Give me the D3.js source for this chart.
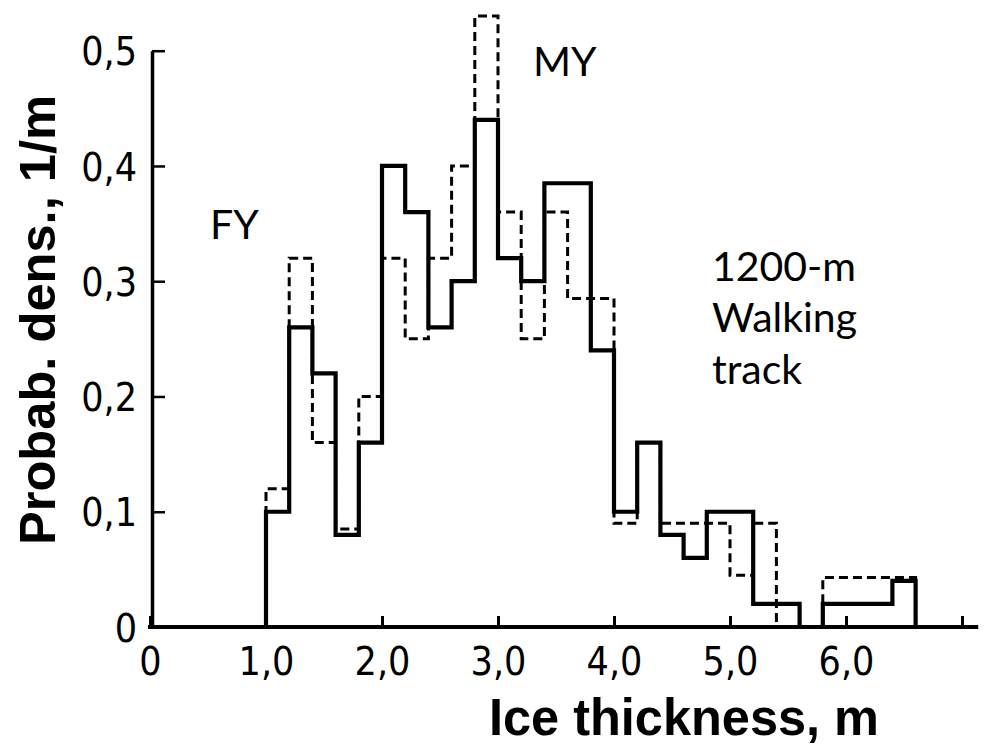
<!DOCTYPE html>
<html>
<head>
<meta charset="utf-8">
<script src="https://cdn.jsdelivr.net/npm/d3@7"></script>
<style>
  body { margin: 0; background: #fff; }
  .axis text { font-family: "Liberation Sans Narrow", "DejaVu Sans Condensed", sans-serif; font-size: 39px; fill: #000; }
  .axis line, .axis path { stroke: #000; }
  .title { font-family: "Liberation Sans", Arial, sans-serif; font-weight: bold; fill: #000; }
  .note { font-family: Lato, "Open Sans", sans-serif; font-size: 41px; fill: #000; }
</style>
</head>
<body>
<svg id="chart" width="989" height="754"></svg>
<script>
// bin left edges (m), bin width 0.2
var binEdges = [1.0, 1.2, 1.4, 1.6, 1.8, 2.0, 2.2, 2.4, 2.6, 2.8, 3.0, 3.2, 3.4, 3.6,
  3.8, 4.0, 4.2, 4.4, 4.6, 4.8, 5.0, 5.2, 5.4, 5.6, 5.8, 6.0, 6.2, 6.4];
var lastEdge = 6.6;

// solid histogram
var solidValues = [0.10, 0.26, 0.22, 0.08, 0.16, 0.40, 0.36, 0.26, 0.30, 0.44, 0.32, 0.30, 0.385, 0.385,
  0.24, 0.10, 0.16, 0.08, 0.06, 0.10, 0.10, 0.02, 0.02, 0, 0.02, 0.02, 0.02, 0.04];
// dashed histogram
var dashedValues = [0.12, 0.32, 0.16, 0.085, 0.20, 0.32, 0.25, 0.32, 0.40, 0.53, 0.36, 0.25, 0.36, 0.285,
  0.285, 0.09, 0.16, 0.09, 0.09, 0.09, 0.045, 0.09, 0, 0, 0.043, 0.043, 0.043, 0.043];

var xTicks = [0, 1, 2, 3, 4, 5, 6, 7];
var xTickLabels = ["0", "1,0", "2,0", "3,0", "4,0", "5,0", "6,0", ""];
var yTicks = [0, 0.1, 0.2, 0.3, 0.4, 0.5];
var yTickLabels = ["0", "0,1", "0,2", "0,3", "0,4", "0,5"];

var svg = d3.select("#chart");

var xScale = d3.scaleLinear().domain([0, 7]).range([150, 962]);
var yScale = d3.scaleLinear().domain([0, 0.5]).range([627, 50.7]);

// x axis
var xAxis = d3.axisBottom(xScale)
  .tickValues(xTicks)
  .tickFormat(function (d, i) { return xTickLabels[i]; })
  .tickSize(-11)
  .tickSizeOuter(0)
  .tickPadding(20);

var gx = svg.append("g")
  .attr("class", "axis")
  .attr("transform", "translate(0," + yScale(0) + ")")
  .call(xAxis);
gx.select(".domain").remove();
gx.selectAll(".tick line").attr("stroke-width", 3);
gx.selectAll(".tick text").attr("dy", "0.72em");
gx.append("line")
  .attr("x1", xScale(0) - 2)
  .attr("x2", xScale(7.14))
  .attr("stroke", "#000")
  .attr("stroke-width", 4);

// y axis
var yAxis = d3.axisLeft(yScale)
  .tickValues(yTicks)
  .tickFormat(function (d, i) { return yTickLabels[i]; })
  .tickSize(-13)
  .tickSizeOuter(0)
  .tickPadding(15);

var gy = svg.append("g")
  .attr("class", "axis")
  .attr("transform", "translate(" + (xScale(0) + 2) + ",0)")
  .call(yAxis);
gy.select(".domain").attr("stroke-width", 3.5);
gy.selectAll(".tick line").attr("stroke-width", 2.5);
gy.selectAll(".tick text").attr("dy", "0.36em");

// step outlines
function stepPoints(values) {
  var pts = [{ x: binEdges[0], v: 0 }];
  binEdges.forEach(function (e, i) { pts.push({ x: e, v: values[i] }); });
  pts.push({ x: lastEdge, v: values[values.length - 1] });
  pts.push({ x: lastEdge, v: 0 });
  return pts;
}

var step = d3.line()
  .x(function (d) { return xScale(d.x); })
  .y(function (d) { return yScale(d.v); })
  .curve(d3.curveStepAfter);

svg.append("path")
  .datum(stepPoints(dashedValues))
  .attr("d", step)
  .attr("fill", "none")
  .attr("stroke", "#000")
  .attr("stroke-width", 3)
  .attr("stroke-dasharray", "9,5");

svg.append("path")
  .datum(stepPoints(solidValues))
  .attr("d", step)
  .attr("fill", "none")
  .attr("stroke", "#000")
  .attr("stroke-width", 4.2);

// axis titles
svg.append("text")
  .attr("class", "title")
  .attr("transform", "translate(55,320) rotate(-90)")
  .attr("text-anchor", "middle")
  .attr("font-size", 50)
  .attr("textLength", 450)
  .attr("lengthAdjust", "spacingAndGlyphs")
  .text("Probab. dens., 1/m");

svg.append("text")
  .attr("class", "title")
  .attr("x", 489)
  .attr("y", 735)
  .attr("font-size", 52)
  .attr("textLength", 390)
  .attr("lengthAdjust", "spacingAndGlyphs")
  .text("Ice thickness, m");

// annotations
svg.append("text").attr("class", "note").attr("x", 210).attr("y", 239).text("FY");
svg.append("text").attr("class", "note").attr("x", 533).attr("y", 76).text("MY");
svg.append("text").attr("class", "note").attr("x", 712).attr("y", 281).text("1200-m");
svg.append("text").attr("class", "note").attr("x", 712).attr("y", 332).text("Walking");
svg.append("text").attr("class", "note").attr("x", 712).attr("y", 384).text("track");
</script>
</body>
</html>
